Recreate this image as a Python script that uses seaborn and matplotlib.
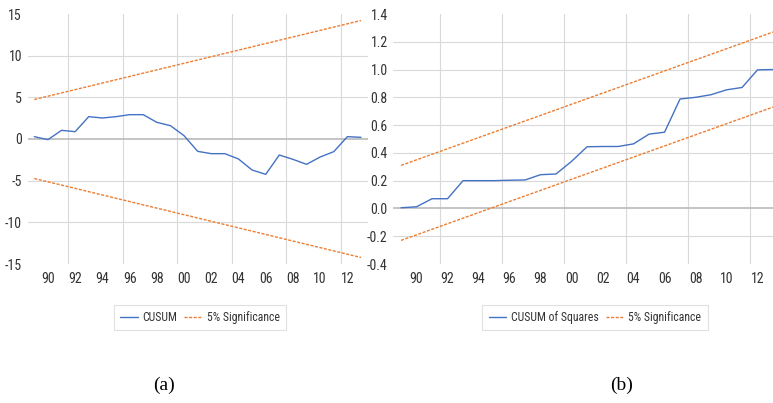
import numpy as np
import matplotlib
matplotlib.use('Agg')
import matplotlib.pyplot as plt
from matplotlib import font_manager
import seaborn as sns

# data
years = list(range(1989, 2014))
cusum = [0.28, -0.08, 1.04, 0.88, 2.68, 2.52, 2.68, 2.92, 2.92, 2.0, 1.6, 0.4,
         -1.48, -1.76, -1.76, -2.4, -3.72, -4.24, -1.92, -2.44, -3.04, -2.16,
         -1.52, 0.28, 0.2]
cusum_sq = [0.005, 0.012, 0.07, 0.07, 0.2, 0.2, 0.2, 0.203, 0.205, 0.243, 0.248,
            0.339, 0.444, 0.446, 0.446, 0.465, 0.535, 0.549, 0.788, 0.80, 0.819,
            0.854, 0.871, 0.998, 1.0]
bound_years = [1989, 2013]
cusum_upper = [4.74, 14.22]
cusum_lower = [-4.74, -14.22]
sq_upper = [0.31, 1.27]
sq_lower = [-0.23, 0.73]

tick_years = [1990, 1992, 1994, 1996, 1998, 2000, 2002, 2004, 2006, 2008, 2010, 2012]
tick_labels = ['90', '92', '94', '96', '98', '00', '02', '04', '06', '08', '10', '12']
left_yticks = [-15, -10, -5, 0, 5, 10, 15]
left_ylabels = ['-15', '-10', '-5', '0', '5', '10', '15']
right_yticks = [-0.4, -0.2, 0.0, 0.2, 0.4, 0.6, 0.8, 1.0, 1.2, 1.4]
right_ylabels = ['-0.4', '-0.2', '0.0', '0.2', '0.4', '0.6', '0.8', '1.0', '1.2', '1.4']

BLUE = '#4472C4'
ORANGE = '#ED7D31'
GRID = '#D9D9D9'
TEXT = '#333333'

sns.set_style('white')

# the chart text is a narrow Calibri-like face; pick a condensed sans if one is installed
fonts = font_manager.fontManager.ttflist
narrow = None
for want in ['Liberation Sans Narrow', 'Roboto Condensed', 'Open Sans Condensed',
             'Noto Sans Condensed', 'DejaVu Sans Condensed']:
    hits = [f for f in fonts if f.name == want and f.style == 'normal']
    if hits:
        narrow = hits[0]
        break
if narrow is None:
    hits = [f for f in fonts if f.style == 'normal' and f.weight in (400, 'normal', 'regular')
            and 'serif' not in f.name.lower() and 'mono' not in f.name.lower()
            and f.stretch in ('condensed', 'semi-condensed')]
    if hits:
        narrow = hits[0]
if narrow is not None:
    plt.rcParams['font.family'] = [narrow.name, 'DejaVu Sans']
    plt.rcParams['font.stretch'] = narrow.stretch
else:
    plt.rcParams['font.family'] = ['DejaVu Sans']

fig = plt.figure(figsize=(7.73, 4.03), dpi=100)
W, H = 773, 403
ax1 = fig.add_axes([27.5 / W, 1 - 264 / H, 340.3 / W, 250 / H])
ax2 = fig.add_axes([393.3 / W, 1 - 264 / H, 387.5 / W, 250 / H])


def style_axes(ax, ylim, yticks, ylabels):
    ax.set_xlim(1988.5, 2013.5)
    ax.set_ylim(*ylim)
    ax.set_xticks(tick_years, tick_labels)
    ax.set_xticks(np.arange(1991.5, 2013, 4), minor=True)
    ax.set_yticks(yticks, ylabels)
    ax.tick_params(which='both', length=0, labelsize=10, colors=TEXT)
    ax.tick_params(axis='x', pad=6)
    ax.tick_params(axis='y', pad=4)
    ax.set_xlabel('')
    ax.set_ylabel('')
    ax.grid(False)
    ax.xaxis.grid(True, which='minor', color=GRID, lw=0.8)
    for v in yticks[1:-1]:
        if abs(v) > 1e-9:
            ax.axhline(v, color=GRID, lw=0.8, zorder=0)
    ax.axhline(0, color='#BFBFBF', lw=1.3, zorder=1)
    for s in ax.spines.values():
        s.set_visible(False)


dash = (0, (2.2, 1.1))

# (a) CUSUM
sns.lineplot(x=years, y=cusum, ax=ax1, color=BLUE, lw=1.0, label='CUSUM', legend=False)
sns.lineplot(x=bound_years, y=cusum_upper, ax=ax1, color=ORANGE, lw=1.0,
             linestyle=dash, label='5% Significance', legend=False)
sns.lineplot(x=bound_years, y=cusum_lower, ax=ax1, color=ORANGE, lw=1.0,
             linestyle=dash, legend=False)
style_axes(ax1, (-15, 15), left_yticks, left_ylabels)

# (b) CUSUM of squares
sns.lineplot(x=years, y=cusum_sq, ax=ax2, color=BLUE, lw=1.0, label='CUSUM of Squares', legend=False)
sns.lineplot(x=bound_years, y=sq_upper, ax=ax2, color=ORANGE, lw=1.0,
             linestyle=dash, label='5% Significance', legend=False)
sns.lineplot(x=bound_years, y=sq_lower, ax=ax2, color=ORANGE, lw=1.0,
             linestyle=dash, legend=False)
style_axes(ax2, (-0.4, 1.4), right_yticks, right_ylabels)

for ax, cx in [(ax1, 200), (ax2, 595)]:
    handles, labels = ax.get_legend_handles_labels()
    if ax.get_legend() is not None:
        ax.get_legend().remove()
    leg = fig.legend(handles, labels, loc='center', bbox_to_anchor=(cx / W, 1 - 317.5 / H),
                     ncol=2, fontsize=8.5, frameon=True, fancybox=False, edgecolor=GRID,
                     handlelength=1.5, handletextpad=0.4, columnspacing=0.6,
                     borderpad=0.55, borderaxespad=0, labelcolor=TEXT)
    leg.get_frame().set_linewidth(0.8)

fig.text(164 / W, 1 - 385 / H, '(a)', ha='center', va='center',
         family='Liberation Serif', fontsize=14, color='black')
fig.text(622 / W, 1 - 385 / H, '(b)', ha='center', va='center',
         family='Liberation Serif', fontsize=14, color='black')

fig.savefig('out.png', dpi=100)
